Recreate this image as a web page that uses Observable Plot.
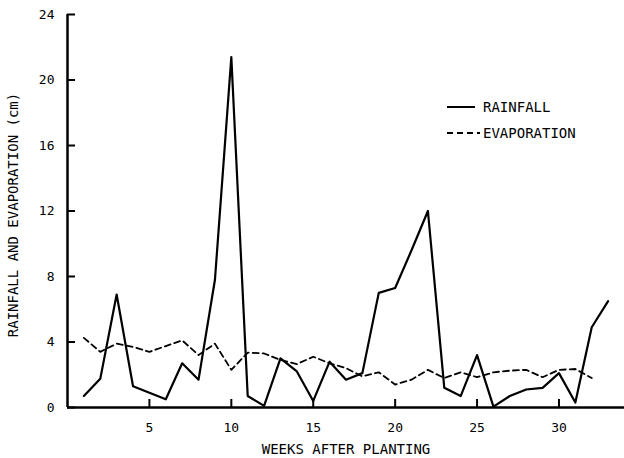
<!DOCTYPE html>
<html>
<head>
<meta charset="utf-8">
<script src="https://cdn.jsdelivr.net/npm/d3@7"></script>
<script src="https://cdn.jsdelivr.net/npm/@observablehq/plot@0.6"></script>
<style>
  html, body { margin: 0; padding: 0; background: #fff; }
  #wrap { position: relative; width: 624px; height: 458px; font-family: "DejaVu Sans Mono", "Liberation Mono", monospace; }
  #legend { position: absolute; left: 447px; top: 94px; font-size: 14px; color: #000; }
  #legend .row { display: flex; align-items: center; height: 26px; }
  #legend svg { display: block; margin-right: 3px; }
</style>
</head>
<body>
<div id="wrap"></div>
<script>
const weeksRain = d3.range(1, 34);
const rainfall = [0.7, 1.75, 6.9, 1.3, 0.9, 0.5, 2.7, 1.7, 7.8, 21.4, 0.7, 0.1, 3.0, 2.2, 0.4, 2.8, 1.7, 2.1, 7.0, 7.3, 9.6, 12.0, 1.2, 0.7, 3.2, 0.05, 0.7, 1.1, 1.2, 2.1, 0.3, 4.9, 6.5];
const weeksEvap = d3.range(1, 33);
const evaporation = [4.25, 3.4, 3.9, 3.7, 3.4, 3.75, 4.1, 3.2, 3.9, 2.3, 3.35, 3.3, 2.9, 2.65, 3.1, 2.7, 2.4, 1.9, 2.15, 1.4, 1.7, 2.3, 1.8, 2.15, 1.85, 2.15, 2.25, 2.3, 1.85, 2.3, 2.35, 1.8];
const xTicks = [5, 10, 15, 20, 25, 30];
const yTicks = [0, 4, 8, 12, 16, 20, 24];
const xLabel = "WEEKS AFTER PLANTING";
const yLabel = "RAINFALL AND EVAPORATION (cm)";
const seriesNames = ["RAINFALL", "EVAPORATION"];

const rainData = weeksRain.map((w, i) => ({week: w, value: rainfall[i]}));
const evapData = weeksEvap.map((w, i) => ({week: w, value: evaporation[i]}));

const font = "DejaVu Sans Mono, Liberation Mono, monospace";
const W = 624, H = 458, mL = 67, mR = 0, mT = 14, mB = 51;
const frameW = W - mL - mR, frameH = H - mT - mB;

const chart = Plot.plot({
  width: W,
  height: H,
  marginLeft: mL,
  marginRight: mR,
  marginTop: mT,
  marginBottom: mB,
  style: {fontFamily: font, fontSize: "13px", color: "#000", background: "#fff"},
  x: {domain: [0, 34]},
  y: {domain: [0, 24]},
  marks: [
    Plot.axisX({ticks: xTicks, tickSize: 0, tickPadding: 15, label: null, tickFormat: d => String(d)}),
    Plot.axisY({ticks: yTicks, tickSize: 0, tickPadding: 13, label: null, tickFormat: d => String(d)}),
    // inward tick marks
    Plot.tickX(xTicks, {x: d => d, insetTop: frameH - 8, strokeWidth: 2, stroke: "#000"}),
    Plot.tickY(yTicks, {y: d => d, insetRight: frameW - 8, strokeWidth: 2, stroke: "#000"}),
    Plot.ruleX([0], {strokeWidth: 2.5}),
    Plot.ruleY([0], {strokeWidth: 2.5}),
    Plot.line(evapData, {x: "week", y: "value", stroke: "#000", strokeWidth: 1.8, strokeDasharray: "6,4"}),
    Plot.line(rainData, {x: "week", y: "value", stroke: "#000", strokeWidth: 2.2}),
    Plot.text([xLabel], {frameAnchor: "bottom", dy: 46, fontSize: 14, fill: "#000"}),
    Plot.text([yLabel], {frameAnchor: "left", textAnchor: "middle", rotate: -90, dx: -54, dy: 4, fontSize: 14, fill: "#000"})
  ]
});

const wrap = document.getElementById("wrap");
wrap.appendChild(chart);

const legend = document.createElement("div");
legend.id = "legend";
const dashes = [null, "6,4"];
seriesNames.forEach((name, i) => {
  const row = document.createElement("div");
  row.className = "row";
  const w = i === 0 ? 28 : 33;
  row.innerHTML = `<svg width="${w}" height="6"><line x1="0" y1="3" x2="${w}" y2="3" stroke="#000" stroke-width="2" ${dashes[i] ? `stroke-dasharray="${dashes[i]}"` : ""}/></svg><span>${name}</span>`;
  if (i === 0) row.querySelector("svg").style.marginRight = "8px";
  legend.appendChild(row);
});
wrap.appendChild(legend);
</script>
</body>
</html>
